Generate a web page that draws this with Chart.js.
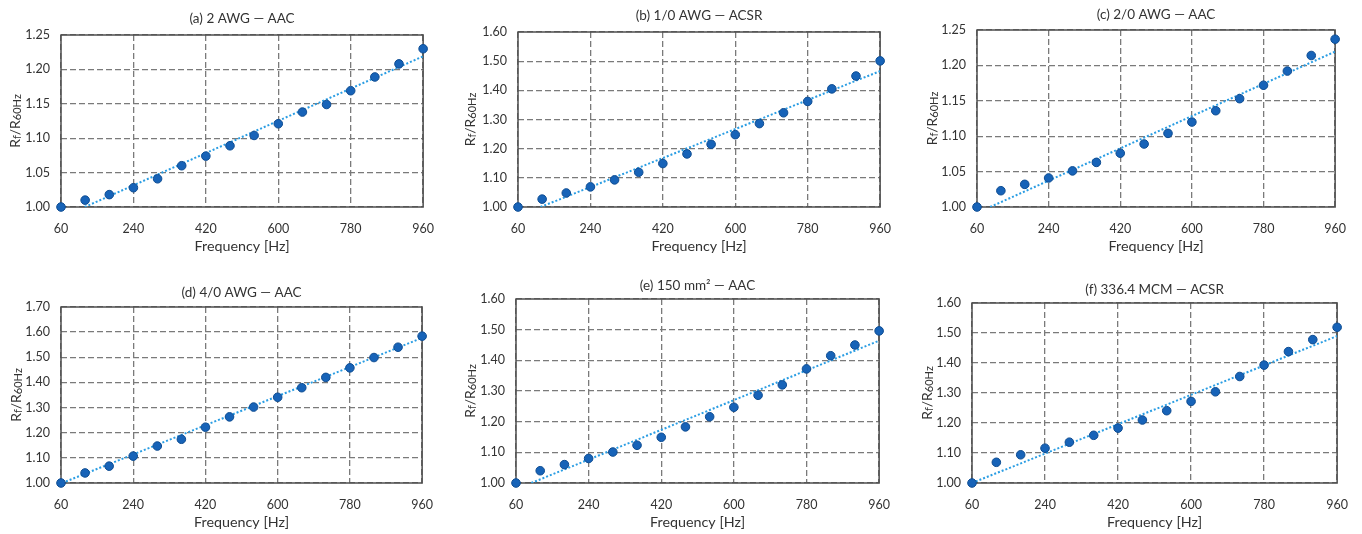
<!DOCTYPE html>
<html><head><meta charset="utf-8">
<script src="https://cdn.jsdelivr.net/npm/chart.js@4/dist/chart.umd.min.js"></script>
<style>
html,body{margin:0;padding:0;background:#fff;}
#wrap{position:relative;width:1362px;height:534px;overflow:hidden;background:#fff;}
#wrap canvas{position:absolute;}
</style></head><body><div id="wrap"></div>
<script>
// ---------- data ----------
const freq = [60,120,180,240,300,360,420,480,540,600,660,720,780,840,900,960];
const xTicks = [60,240,420,600,780,960];

const titleA = '(a) 2 AWG \u2014 AAC';
const titleB = '(b) 1/0 AWG \u2014 ACSR';
const titleC = '(c) 2/0 AWG \u2014 AAC';
const titleD = '(d) 4/0 AWG \u2014 AAC';
const titleE = '(e) 150 mm\u00B2 \u2014 AAC';
const titleF = '(f) 336.4 MCM \u2014 ACSR';

const ratioA = [1.000,1.010,1.018,1.028,1.041,1.060,1.074,1.089,1.104,1.121,1.138,1.149,1.169,1.189,1.208,1.230];
const ratioB = [1.000,1.027,1.048,1.069,1.093,1.119,1.149,1.182,1.215,1.248,1.286,1.323,1.362,1.405,1.449,1.501];
const ratioC = [1.000,1.023,1.032,1.041,1.051,1.063,1.076,1.089,1.104,1.120,1.136,1.153,1.172,1.192,1.214,1.237];
const ratioD = [1.000,1.040,1.067,1.107,1.147,1.174,1.222,1.263,1.302,1.341,1.379,1.420,1.458,1.499,1.540,1.584];
const ratioE = [1.000,1.040,1.060,1.080,1.101,1.123,1.149,1.183,1.216,1.247,1.286,1.320,1.372,1.415,1.450,1.496];
const ratioF = [1.000,1.069,1.094,1.116,1.136,1.159,1.183,1.210,1.241,1.272,1.304,1.355,1.393,1.438,1.478,1.519];

// linear trendline end points
const trendAx = [119,960], trendAy = [1.000,1.219];
const trendBx = [116,960], trendBy = [1.000,1.466];
const trendCx = [93,960],  trendCy = [1.000,1.2195];
const trendDx = [63,960],  trendDy = [1.000,1.577];
const trendEx = [98,960],  trendEy = [1.000,1.464];
const trendFx = [60,960],  trendFy = [1.000,1.490];

const yTicksA = [1.00,1.05,1.10,1.15,1.20,1.25];
const yTicksB = [1.00,1.10,1.20,1.30,1.40,1.50,1.60];
const yTicksC = [1.00,1.05,1.10,1.15,1.20,1.25];
const yTicksD = [1.00,1.10,1.20,1.30,1.40,1.50,1.60,1.70];
const yTicksE = [1.00,1.10,1.20,1.30,1.40,1.50,1.60];
const yTicksF = [1.00,1.10,1.20,1.30,1.40,1.50,1.60];

const xTitle = 'Frequency [Hz]';

// ---------- layout (plot-area rectangles in page pixels) ----------
const panels = [
  {title:titleA, y:ratioA, tx:trendAx, ty:trendAy, yt:yTicksA, L:61,  R:426,  T:35,  B:207, tOff:16, yOff:46},
  {title:titleB, y:ratioB, tx:trendBx, ty:trendBy, yt:yTicksB, L:518, R:883,  T:32,  B:207, tOff:16, yOff:48},
  {title:titleC, y:ratioC, tx:trendCx, ty:trendCy, yt:yTicksC, L:977, R:1338, T:30,  B:207, tOff:15, yOff:45},
  {title:titleD, y:ratioD, tx:trendDx, ty:trendDy, yt:yTicksD, L:61,  R:425,  T:307, B:483, tOff:14, yOff:45},
  {title:titleE, y:ratioE, tx:trendEx, ty:trendEy, yt:yTicksE, L:516, R:882,  T:299, B:483, tOff:13, yOff:46},
  {title:titleF, y:ratioF, tx:trendFx, ty:trendFy, yt:yTicksF, L:972, R:1340, T:303, B:483, tOff:13, yOff:45}
];

const FONT = 'Lato, "Open Sans", sans-serif';
const TEXT = '#333333';
const PADL = 61, PADT = 30, PADR = 22, PADB = 54;

const decor = {
  id: 'decor',
  beforeDatasetsDraw(chart, args, opts) {
    const {ctx, chartArea: a} = chart;
    ctx.save();
    ctx.strokeStyle = '#4d4d4d';
    ctx.lineWidth = 1.5;
    ctx.setLineDash([]);
    ctx.strokeRect(a.left, a.top, a.right - a.left, a.bottom - a.top);
    ctx.restore();
  },
  afterDraw(chart, args, opts) {
    const {ctx, chartArea: a} = chart;
    const cx = (a.left + a.right) / 2, cy = (a.top + a.bottom) / 2;
    ctx.save();
    ctx.fillStyle = TEXT;
    ctx.textAlign = 'center';
    ctx.textBaseline = 'middle';
    ctx.font = '13.5px ' + FONT;
    ctx.fillText(opts.title, cx, a.top - opts.tOff);
    ctx.font = '14.3px ' + FONT;
    ctx.fillText(xTitle, cx, a.bottom + 39);
    // y title with subscripts
    const big = '14px ' + FONT, small = '11px ' + FONT;
    const parts = [['R', big, 0], ['f', small, 2.5], ['/R', big, 0], ['60Hz', small, 2.5]];
    let total = 0;
    parts.forEach(p => { ctx.font = p[1]; total += ctx.measureText(p[0]).width; });
    ctx.translate(a.left - opts.yOff, cy);
    ctx.rotate(-Math.PI / 2);
    ctx.textAlign = 'left';
    let x = -total / 2;
    parts.forEach(p => { ctx.font = p[1]; ctx.fillText(p[0], x, p[2]); x += ctx.measureText(p[0]).width; });
    ctx.restore();
  }
};

const wrap = document.getElementById('wrap');
panels.forEach(p => {
  const cv = document.createElement('canvas');
  const w = (p.R - p.L) + PADL + PADR, h = (p.B - p.T) + PADT + PADB;
  cv.width = w; cv.height = h;
  cv.style.left = (p.L - PADL) + 'px';
  cv.style.top = (p.T - PADT) + 'px';
  cv.style.width = w + 'px'; cv.style.height = h + 'px';
  wrap.appendChild(cv);
  const yMin = p.yt[0], yMax = p.yt[p.yt.length - 1];
  new Chart(cv, {
    type: 'scatter',
    data: {
      datasets: [
        {
          data: freq.map((f, i) => ({x: f, y: p.y[i]})),
          pointRadius: 4.3,
          pointBackgroundColor: '#1763B8',
          pointBorderColor: '#0E4C91',
          pointBorderWidth: 1,
          showLine: false,
          clip: false
        },
        {
          type: 'line',
          data: p.tx.map((f, i) => ({x: f, y: p.ty[i]})),
          borderColor: '#2A9DE3',
          borderWidth: 2,
          borderDash: [2, 2],
          pointRadius: 0,
          fill: false,
          tension: 0
        }
      ]
    },
    options: {
      responsive: false,
      animation: false,
      devicePixelRatio: 1,
      layout: {padding: {top: PADT, right: PADR, left: 0, bottom: 0}},
      plugins: {
        legend: {display: false},
        tooltip: {enabled: false},
        title: {display: false},
        decor: {title: p.title, tOff: p.tOff, yOff: p.yOff}
      },
      scales: {
        x: {
          type: 'linear', min: 60, max: 960,
          afterBuildTicks: s => { s.ticks = xTicks.map(v => ({value: v})); },
          afterFit: s => { s.height = PADB; },
          grid: {color: '#7a7a7a', lineWidth: 1.3, drawTicks: false},
          border: {display: false, dash: [6, 3]},
          ticks: {color: TEXT, font: {family: FONT, size: 12.5}, padding: 14, maxRotation: 0,
                  callback: v => String(v)}
        },
        y: {
          type: 'linear', min: yMin, max: yMax,
          afterBuildTicks: s => { s.ticks = p.yt.map(v => ({value: v})); },
          afterFit: s => { s.width = PADL; },
          grid: {color: '#7a7a7a', lineWidth: 1.3, drawTicks: false},
          border: {display: false, dash: [6, 3]},
          ticks: {color: TEXT, font: {family: FONT, size: 12.5}, padding: 11,
                  callback: v => Number(v).toFixed(2)}
        }
      }
    },
    plugins: [decor]
  });
});
</script></body></html>
